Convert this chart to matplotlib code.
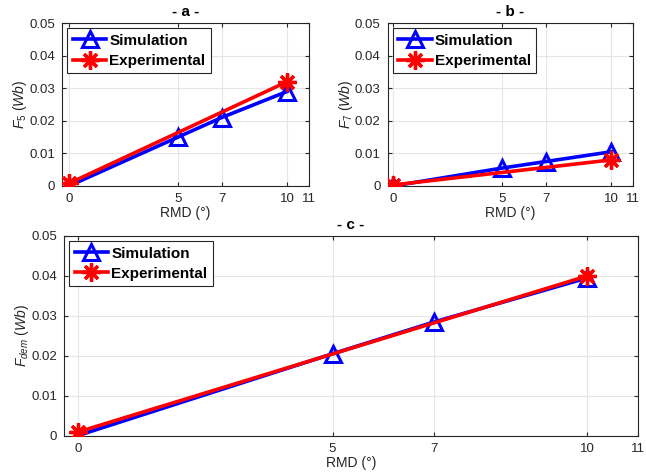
import matplotlib
matplotlib.use("Agg")
import matplotlib.pyplot as plt

plt.rcParams['font.family'] = ['Liberation Sans', 'DejaVu Sans']
plt.rcParams['mathtext.fontset'] = 'custom'
plt.rcParams['mathtext.it'] = 'Liberation Sans:italic'
plt.rcParams['mathtext.rm'] = 'Liberation Sans'

# data
rmd_sim = [0, 5, 7, 10]
rmd_exp = [0, 10]
f5_sim = [0.0, 0.015, 0.021, 0.029]
f5_exp = [0.0008, 0.032]
f7_sim = [0.0, 0.0055, 0.0075, 0.0105]
f7_exp = [0.0003, 0.008]
fdem_sim = [0.0, 0.0205, 0.0285, 0.0395]
fdem_exp = [0.0009, 0.040]

xticks = [0, 5, 7, 10, 11]
yticks = [0, 0.01, 0.02, 0.03, 0.04, 0.05]
ytick_labels = ['0', '0.01', '0.02', '0.03', '0.04', '0.05']

fig = plt.figure(figsize=(6.46, 4.72), dpi=100)
ax_a = fig.add_axes([0.096, 0.606, 0.382, 0.345])
ax_b = fig.add_axes([0.600, 0.606, 0.380, 0.345])
ax_c = fig.add_axes([0.099, 0.077, 0.889, 0.423])

dark = '#262626'

def draw(ax, sim, exp, title, ylab, xlim0):
    ax.plot(rmd_sim, sim, color='#0000ff', lw=2.6, marker='^', ms=12,
            mfc='none', mew=2.2, label='Simulation', zorder=3)
    ax.plot(rmd_exp, exp, color='#ff0000', lw=2.6, marker=(8, 2, 0), ms=13,
            mew=2.4, label='Experimental', zorder=4)
    ax.set_xlim(xlim0, 11)
    ax.set_ylim(0, 0.05)
    ax.set_xticks(xticks)
    ax.set_xticklabels(['0', '5', '7', '10', '11'])
    ax.set_yticks(yticks)
    ax.set_yticklabels(ytick_labels)
    ax.grid(True, color='#e6e6e6', lw=0.8)
    ax.set_axisbelow(True)
    ax.tick_params(labelsize=9.5, colors=dark, direction='in', length=3,
                   top=True, right=True, pad=5)
    for s in ax.spines.values():
        s.set_color(dark)
        s.set_linewidth(0.8)
    ax.set_title(title, fontsize=11, fontweight='bold', pad=5)
    ax.set_xlabel('RMD (°)', fontsize=10, color=dark, labelpad=1)
    ax.set_ylabel(ylab, fontsize=10, color=dark, labelpad=0)
    leg = ax.legend(loc='upper left', prop={'weight': 'bold', 'size': 11},
                    fancybox=False, framealpha=1, edgecolor=dark,
                    handlelength=2.2, borderaxespad=0.35, borderpad=0.35,
                    labelspacing=0.4, handletextpad=0.2)
    leg.get_frame().set_linewidth(0.8)

draw(ax_a, f5_sim, f5_exp, '- a -', r'$F_5\ (Wb)$', -0.32)
draw(ax_b, f7_sim, f7_exp, '- b -', r'$F_7\ (Wb)$', -0.25)
draw(ax_c, fdem_sim, fdem_exp, '- c -', r'$F_{dem}\ (Wb)$', -0.27)

fig.savefig('out.png', dpi=100)
